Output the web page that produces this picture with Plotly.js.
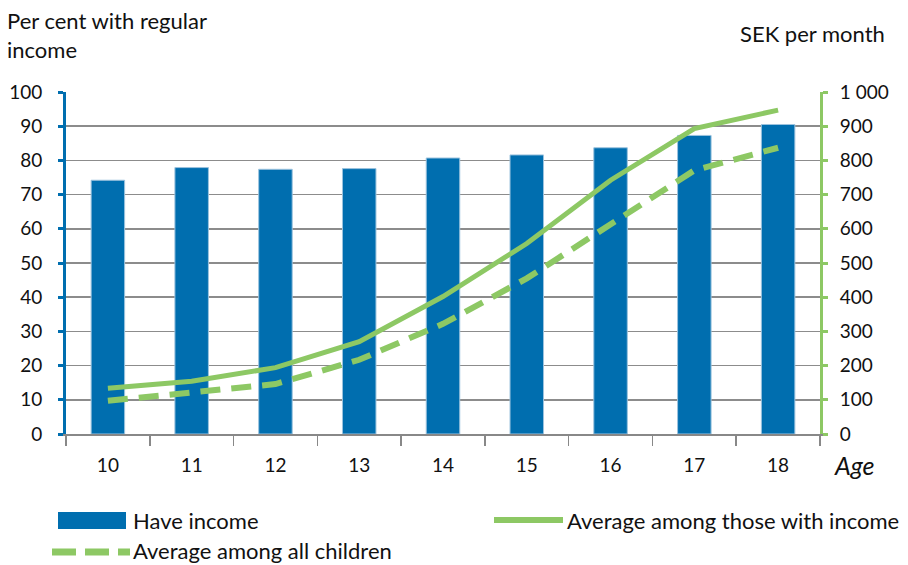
<!DOCTYPE html>
<html><head><meta charset="utf-8">
<script src="https://cdn.plot.ly/plotly-3.0.1.min.js"></script>
<style>body{margin:0;background:#fff}#c{width:908px;height:565px}</style>
</head><body><div id="c"></div>
<script>
const ages = ['10','11','12','13','14','15','16','17','18'];
const haveIncome = [74.2, 77.9, 77.4, 77.6, 80.7, 81.6, 83.7, 87.3, 90.5];
const avgWithIncome = [134, 154, 194, 270, 402, 557, 742, 893, 947];
const avgAllChildren = [97, 120, 146, 217, 322, 455, 613, 771, 837];
const leftTicks = [0,10,20,30,40,50,60,70,80,90,100];
const rightTickVals = [0,100,200,300,400,500,600,700,800,900,1000];
const rightTickText = ['0','100','200','300','400','500','600','700','800','900','1 000'];
const seriesNames = ['Have income', 'Average among those with income', 'Average among all children'];

const BLUE = '#006EAF', GREEN = '#8DC864';
const F = 'Lato, "Open Sans", sans-serif';
const DASH = '20px,11px';

// plot area in pixels: left 66, right 820, top 92, bottom 434
const PL = 66, PW = 754, PT = 92, PH = 342;
const px = v => (v - PL) / PW;
const py = v => (PT + PH - v) / PH;

const traces = [
  {type:'bar', x:ages, y:haveIncome, name:seriesNames[0], marker:{color:BLUE, line:{color:'#9cc3de', width:1}}, width:0.4, yaxis:'y'},
  {type:'scatter', mode:'lines', x:ages, y:avgWithIncome, name:seriesNames[1], line:{color:GREEN, width:5}, yaxis:'y2'},
  {type:'scatter', mode:'lines', x:ages, y:avgAllChildren, name:seriesNames[2], line:{color:GREEN, width:6, dash:DASH}, yaxis:'y2'}
];

const legFont = {family:F, size:22, color:'#111'};
const layout = {
  width:908, height:565,
  margin:{l:66, r:88, t:92, b:131},
  paper_bgcolor:'#fff', plot_bgcolor:'#fff',
  font:{family:F, size:19, color:'#111'},
  showlegend:false,
  xaxis:{type:'category', tickson:'boundaries', ticks:'outside', ticklen:10, tickcolor:'#888', tickwidth:1.5,
         showline:true, linecolor:'#888', linewidth:1.5, showgrid:false, tickfont:{family:F, size:19}, ticklabelstandoff:14, fixedrange:true},
  yaxis:{range:[0,100], tickvals:leftTicks, showgrid:true, gridcolor:'#8c8c8c', gridwidth:1.5, zeroline:false,
         showline:true, linecolor:BLUE, linewidth:3, ticks:'outside', ticklen:5, tickcolor:BLUE, tickwidth:3,
         tickfont:{family:F, size:19}, ticklabelstandoff:12},
  yaxis2:{range:[0,1000], overlaying:'y', side:'right', tickvals:rightTickVals, ticktext:rightTickText, showgrid:false, zeroline:false,
          showline:true, linecolor:GREEN, linewidth:3, ticks:'outside', ticklen:5, tickcolor:GREEN, tickwidth:3,
          tickfont:{family:F, size:19}, ticklabelstandoff:8},
  shapes:[
    {type:'rect', xref:'paper', yref:'paper', x0:px(58), x1:px(126), y0:py(512), y1:py(529), fillcolor:BLUE, line:{width:0}},
    {type:'line', xref:'paper', yref:'paper', x0:px(494), x1:px(563), y0:py(520), y1:py(520), line:{color:GREEN, width:6}},
    {type:'line', xref:'paper', yref:'paper', x0:px(52), x1:px(130), y0:py(552), y1:py(552), line:{color:GREEN, width:7, dash:'24px,9px'}}
  ],
  annotations:[
    {text:'Per cent with regular<br>income', xref:'paper', yref:'paper', x:px(5), y:py(5), xanchor:'left', yanchor:'top', align:'left', showarrow:false, font:{family:F, size:22, color:'#111'}},
    {text:'SEK per month', xref:'paper', yref:'paper', x:px(887), y:py(18), xanchor:'right', yanchor:'top', align:'left', showarrow:false, font:{family:F, size:22, color:'#111'}},
    {text:'<i>Age</i>', xref:'paper', yref:'paper', x:px(832), y:py(448), xanchor:'left', yanchor:'top', showarrow:false, font:{family:F, size:25, color:'#111'}},
    {text:seriesNames[0], xref:'paper', yref:'paper', x:px(131), y:py(520), xanchor:'left', yanchor:'middle', showarrow:false, font:legFont},
    {text:seriesNames[1], xref:'paper', yref:'paper', x:px(565), y:py(520), xanchor:'left', yanchor:'middle', showarrow:false, font:legFont},
    {text:seriesNames[2], xref:'paper', yref:'paper', x:px(131), y:py(550), xanchor:'left', yanchor:'middle', showarrow:false, font:legFont}
  ]
};
Plotly.newPlot('c', traces, layout, {displayModeBar:false, staticPlot:true});
</script></body></html>
